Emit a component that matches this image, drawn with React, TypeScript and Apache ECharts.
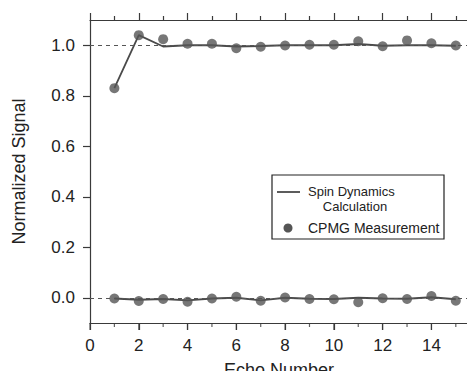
import React, { useEffect, useRef } from "react";
import * as echarts from "echarts";

const echoNumbers = [1, 2, 3, 4, 5, 6, 7, 8, 9, 10, 11, 12, 13, 14, 15];
const calcTop = [0.83, 1.04, 0.995, 1.0, 1.0, 0.995, 0.997, 1.0, 1.0, 1.0, 1.005, 0.998, 1.0, 1.0, 0.998];
const measTop = [0.83, 1.04, 1.024, 1.006, 1.006, 0.988, 0.994, 0.999, 1.002, 1.002, 1.016, 0.996, 1.019, 1.008, 0.999];
const calcBottom = [-0.003, -0.008, -0.005, -0.01, -0.003, 0.0, -0.01, 0.0, -0.004, -0.005, 0.0, -0.003, -0.004, 0.002, -0.006];
const measBottom = [-0.003, -0.013, -0.005, -0.016, -0.003, 0.004, -0.012, 0.001, -0.005, -0.006, -0.018, -0.002, -0.005, 0.007, -0.012];
const xMajorTicks = [0, 2, 4, 6, 8, 10, 12, 14];
const xMinorTicks = [1, 3, 5, 7, 9, 11, 13, 15];
const yTicks = [0, 0.2, 0.4, 0.6, 0.8, 1.0];
const refLines = [0, 1.0];
const X_MIN = 0;
const X_MAX = 15.5;
const Y_MIN = -0.1;
const Y_MAX = 1.1;

const FONT = "'Liberation Sans', Arial, Helvetica, sans-serif";
const AX = "#3a3a3a";
const LINE = "#4a4a4a";
const DOT = "#555555";
const TXT = "#222";

export default function App() {
  const ref = useRef<HTMLDivElement>(null);
  useEffect(() => {
    if (!ref.current) return;
    const chart = echarts.init(ref.current, undefined, { renderer: "svg" });
    const pair = (xs: number[], ys: number[]) => xs.map((x, i) => [x, ys[i]]);
    const topTickAxis = (ticks: number[], len: number, line: boolean) => ({
      type: "value", min: X_MIN, max: X_MAX, position: "top", splitLine: { show: false },
      axisLine: { show: line, onZero: false, lineStyle: { color: AX, width: 1.2 } },
      axisTick: { show: true, inside: false, customValues: ticks, length: len, lineStyle: { color: AX, width: 1.2 } },
      axisLabel: { show: false },
    });
    const bottomTicks = (ticks: number[], len: number, name: string) => ({
      name,
      type: "scatter",
      silent: true,
      clip: false,
      data: ticks.map((x) => [x, Y_MIN]),
      symbol: "rect",
      symbolSize: [1.2, len],
      symbolOffset: [0, len / 2],
      itemStyle: { color: AX },
      z: 5,
    });
    chart.setOption({
      animation: false,
      grid: { left: 90, right: 7, top: 20, bottom: 56, outerBoundsMode: "none" },
      xAxis: [
        {
          type: "value", min: X_MIN, max: X_MAX, position: "bottom", splitLine: { show: false },
          axisLine: { show: true, onZero: false, lineStyle: { color: AX, width: 1.2 } },
          axisTick: { show: true, customValues: xMajorTicks, length: 7, lineStyle: { color: AX, width: 1.2 } },
          axisLabel: { customValues: xMajorTicks, fontSize: 17, color: TXT, fontFamily: FONT, margin: 14 },
          name: "Echo Number", nameLocation: "middle", nameGap: 38, nameMoveOverlap: false,
          nameTextStyle: { fontSize: 18, color: TXT, fontFamily: FONT },
        },
        topTickAxis(xMajorTicks, 7, true),
        topTickAxis(xMinorTicks, 4, false),
      ],
      yAxis: [
        {
          type: "value", min: Y_MIN, max: Y_MAX, position: "left", splitLine: { show: false },
          axisLine: { show: true, onZero: false, lineStyle: { color: AX, width: 1.2 } },
          axisTick: { show: true, customValues: yTicks, length: 7, lineStyle: { color: AX, width: 1.2 } },
          axisLabel: {
            customValues: yTicks, fontSize: 17, color: TXT, fontFamily: FONT, margin: 15,
            formatter: (v: number) => v.toFixed(1),
          },
          name: "Normalized Signal", nameLocation: "middle", nameGap: 62, nameMoveOverlap: false,
          nameTextStyle: { fontSize: 18, color: TXT, fontFamily: FONT },
        },
        {
          type: "value", min: Y_MIN, max: Y_MAX, position: "right", splitLine: { show: false },
          axisLine: { show: true, onZero: false, lineStyle: { color: AX, width: 1.2 } },
          axisTick: { show: true, customValues: yTicks, length: 7, lineStyle: { color: AX, width: 1.2 } },
          axisLabel: { show: false },
        },
      ],
      series: [
        {
          name: "ref",
          type: "line",
          data: [],
          markLine: {
            silent: true,
            symbol: "none",
            label: { show: false },
            lineStyle: { color: "#555", type: [4, 4], width: 1 },
            data: [
              ...refLines.map((v) => ({ yAxis: v })),
              { yAxis: Y_MIN, lineStyle: { color: AX, type: "solid", width: 1.2 } },
            ],
          },
        },
        bottomTicks(xMajorTicks, 7, "major ticks"),
        bottomTicks(xMinorTicks, 4, "minor ticks"),
        {
          name: "Spin Dynamics Calculation",
          type: "line",
          data: pair(echoNumbers, calcTop),
          symbol: "none",
          lineStyle: { color: LINE, width: 1.8 },
          z: 3,
        },
        {
          name: "Spin Dynamics Calculation 2",
          type: "line",
          data: pair(echoNumbers, calcBottom),
          symbol: "none",
          lineStyle: { color: LINE, width: 1.8 },
          z: 3,
        },
        {
          name: "CPMG Measurement",
          type: "scatter",
          data: pair(echoNumbers, measTop),
          symbol: "circle",
          symbolSize: 10,
          itemStyle: { color: DOT },
          z: 4,
        },
        {
          name: "CPMG Measurement 2",
          type: "scatter",
          data: pair(echoNumbers, measBottom),
          symbol: "circle",
          symbolSize: 10,
          itemStyle: { color: DOT },
          z: 4,
        },
      ],
      graphic: [
        {
          type: "rect",
          shape: { x: 272, y: 175, width: 172, height: 64 },
          style: { fill: "#fff", stroke: "#222", lineWidth: 1.2 },
          z: 10,
        },
        {
          type: "line",
          shape: { x1: 277, y1: 192, x2: 300, y2: 192 },
          style: { stroke: LINE, lineWidth: 1.8 },
          z: 11,
        },
        {
          type: "text",
          x: 308,
          y: 191,
          style: { text: "Spin Dynamics", fontSize: 13, fontFamily: FONT, fill: TXT, verticalAlign: "middle", align: "left" },
          z: 11,
        },
        {
          type: "text",
          x: 355,
          y: 206,
          style: { text: "Calculation", fontSize: 13, fontFamily: FONT, fill: TXT, verticalAlign: "middle", align: "center" },
          z: 11,
        },
        {
          type: "circle",
          shape: { cx: 288, cy: 228, r: 4.5 },
          style: { fill: DOT },
          z: 11,
        },
        {
          type: "text",
          x: 308,
          y: 228,
          style: { text: "CPMG Measurement", fontSize: 14, fontFamily: FONT, fill: TXT, verticalAlign: "middle", align: "left" },
          z: 11,
        },
      ],
    });
    return () => chart.dispose();
  }, []);
  return <div ref={ref} style={{ width: 475, height: 379, margin: -8 }} />;
}
